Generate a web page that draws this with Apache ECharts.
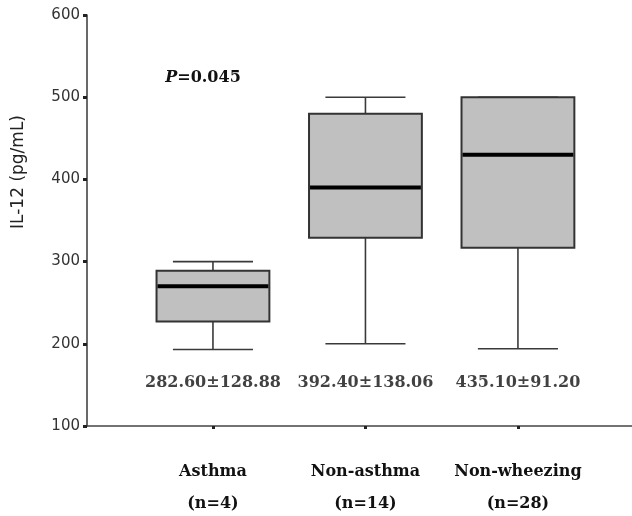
<!DOCTYPE html>
<html lang="en" style="height: 100%">
<head>
    <meta charset="utf-8">
</head>
<body style="height: 100%; margin: 0; overflow: hidden; background: #fff">
<div id="container" style="height: 516px; width: 632px"></div>

<script type="text/javascript" src="https://cdn.jsdelivr.net/npm/echarts@6/dist/echarts.min.js"></script>

<script type="text/javascript">
    // groups and sample sizes
    var groups = ['Asthma', 'Non-asthma', 'Non-wheezing'];
    var groupN = ['(n=4)', '(n=14)', '(n=28)'];
    // box statistics: [min, Q1, median, Q3, max]
    var boxMin = [193, 200, 194];
    var boxQ1 = [227, 329, 317];
    var boxMedian = [270, 390, 430];
    var boxQ3 = [289, 480, 500];
    var boxMax = [300, 500, 500];
    // mean ± SD printed under each box
    var meanSd = ['282.60\u00b1128.88', '392.40\u00b1138.06', '435.10\u00b191.20'];
    var yTicks = [100, 200, 300, 400, 500, 600];

    var serifBold = '"DejaVu Serif", "Liberation Serif", serif';

    var dom = document.getElementById('container');
    var myChart = echarts.init(dom, null, { renderer: 'canvas' });

    var boxData = groups.map(function (g, i) {
      return [i + 1, boxMin[i], boxQ1[i], boxMedian[i], boxQ3[i], boxMax[i]];
    });
    var statLabelY = 152;
    var statData = groups.map(function (g, i) {
      return { value: [i + 1, statLabelY], label: { formatter: meanSd[i] } };
    });

    function renderBox(params, api) {
      var x = api.value(0);
      var band = api.size([1, 0])[0];
      var boxW = band * 0.74;
      var capW = band * 0.525;
      var pMin = api.coord([x, api.value(1)]);
      var pQ1 = api.coord([x, api.value(2)]);
      var pMed = api.coord([x, api.value(3)]);
      var pQ3 = api.coord([x, api.value(4)]);
      var pMax = api.coord([x, api.value(5)]);
      var cx = pMed[0];
      var lineStyle = { stroke: '#3a3a3a', lineWidth: 1.6 };
      return {
        type: 'group',
        children: [
          { type: 'line', shape: { x1: cx, y1: pQ3[1], x2: cx, y2: pMax[1] }, style: lineStyle },
          { type: 'line', shape: { x1: cx, y1: pQ1[1], x2: cx, y2: pMin[1] }, style: lineStyle },
          { type: 'line', shape: { x1: cx - capW / 2, y1: pMax[1], x2: cx + capW / 2, y2: pMax[1] }, style: lineStyle },
          { type: 'line', shape: { x1: cx - capW / 2, y1: pMin[1], x2: cx + capW / 2, y2: pMin[1] }, style: lineStyle },
          {
            type: 'rect',
            shape: { x: cx - boxW / 2, y: pQ3[1], width: boxW, height: pQ1[1] - pQ3[1] },
            style: { fill: '#c0c0c0', stroke: '#333', lineWidth: 2 }
          },
          {
            type: 'line',
            shape: { x1: cx - boxW / 2 + 1, y1: pMed[1], x2: cx + boxW / 2 - 1, y2: pMed[1] },
            style: { stroke: '#000', lineWidth: 4 }
          }
        ]
      };
    }

    var option = {
      animation: false,
      backgroundColor: '#fff',
      grid: { left: 87, right: 0, top: 15, bottom: 90, containLabel: false, outerBoundsMode: 'none' },
      xAxis: {
        type: 'value',
        min: 0.174,
        max: 3.748,
        splitLine: { show: false },
        axisLine: { lineStyle: { color: '#444', width: 1.6 } },
        axisTick: { customValues: [1, 2, 3], length: 3, lineStyle: { color: '#222', width: 3 } },
        axisLabel: {
          customValues: [1, 2, 3],
          margin: 30,
          formatter: function (v) {
            var i = Math.round(v) - 1;
            return groups[i] + '\n' + groupN[i];
          },
          fontFamily: serifBold,
          fontWeight: 'bold',
          fontSize: 16,
          lineHeight: 32,
          color: '#111'
        }
      },
      yAxis: {
        type: 'value',
        min: yTicks[0],
        max: yTicks[yTicks.length - 1],
        interval: 100,
        splitLine: { show: false },
        axisLine: { show: true, lineStyle: { color: '#444', width: 1.6 } },
        axisTick: { show: true, length: 4, lineStyle: { color: '#222', width: 3 } },
        axisLabel: {
          margin: 7,
          fontFamily: '"DejaVu Sans", sans-serif',
          fontSize: 15,
          color: '#333',
          customValues: yTicks
        }
      },
      graphic: [
        {
          type: 'text',
          x: 19,
          y: 172,
          rotation: Math.PI / 2,
          style: {
            text: 'IL-12 (pg/mL)',
            fontFamily: '"DejaVu Sans", sans-serif',
            fontSize: 17,
            fill: '#222',
            align: 'center',
            verticalAlign: 'middle'
          }
        },
        {
          type: 'text',
          x: 203,
          y: 78,
          style: {
            text: '{p|P}{v|=0.045}',
            rich: {
              p: { fontFamily: serifBold, fontWeight: 'bold', fontStyle: 'italic', fontSize: 16, fill: '#111' },
              v: { fontFamily: serifBold, fontWeight: 'bold', fontSize: 16, fill: '#111' }
            },
            align: 'center',
            verticalAlign: 'middle'
          }
        }
      ],
      series: [
        {
          type: 'custom',
          renderItem: renderBox,
          encode: { x: 0, y: [1, 2, 3, 4, 5] },
          data: boxData,
          silent: true
        },
        {
          type: 'scatter',
          symbolSize: 0,
          data: statData,
          silent: true,
          label: {
            show: true,
            position: 'inside',
            fontFamily: serifBold,
            fontWeight: 'bold',
            fontSize: 16,
            color: '#111'
          }
        }
      ]
    };

    myChart.setOption(option);
    window.addEventListener('resize', myChart.resize);
</script>
</body>
</html>
